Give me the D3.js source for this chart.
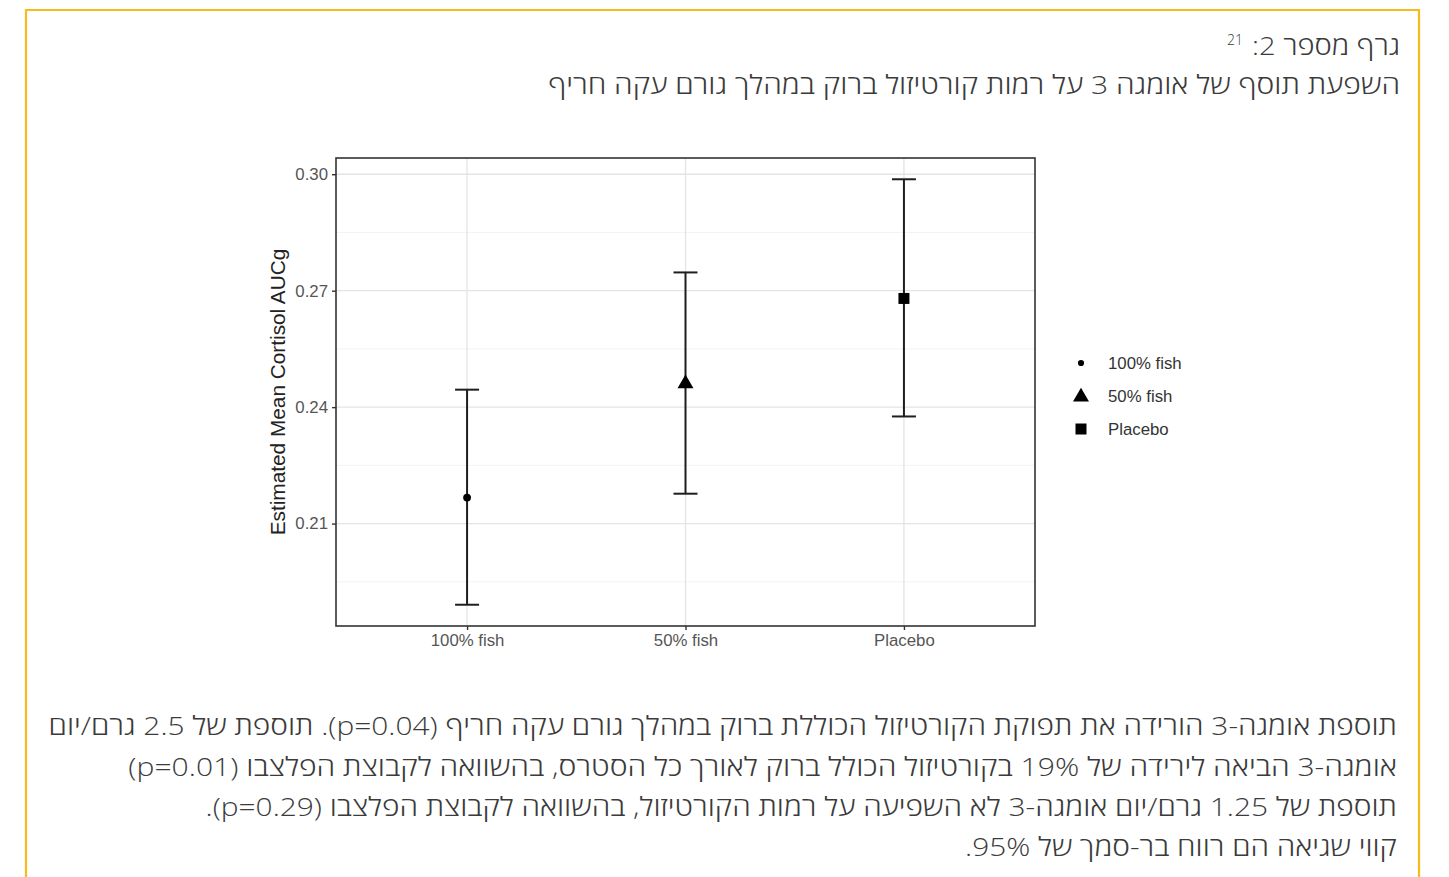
<!DOCTYPE html>
<html lang="he">
<head>
<meta charset="utf-8">
<script src="https://cdn.jsdelivr.net/npm/d3@7/dist/d3.min.js"></script>
<style>
  html, body { margin: 0; padding: 0; background: #ffffff; }
  svg { display: block; }
</style>
</head>
<body>
<svg id="fig" width="1449" height="877"></svg>
<script>
// Groups, estimated means and 95% confidence limits
const categories = ["100% fish", "50% fish", "Placebo"];
const estimates = [0.2167, 0.2463, 0.2680];
const lowerCI = [0.1891, 0.2177, 0.2376];
const upperCI = [0.2445, 0.2747, 0.2987];
const shapes = ["circle", "triangle", "square"];

// Axis ticks
const yTicks = [0.21, 0.24, 0.27, 0.30];
const yMinorTicks = [0.195, 0.225, 0.255, 0.285];
const yTitle = "Estimated Mean Cortisol AUCg";

// Surrounding Hebrew text
const headingLine = "גרף מספר 2:";
const headingRef = "21";
const subtitleLine = "השפעת תוסף של אומגה 3 על רמות קורטיזול ברוק במהלך גורם עקה חריף";
const captionLines = [
  "תוספת אומגה-3 הורידה את תפוקת הקורטיזול הכוללת ברוק במהלך גורם עקה חריף (p=0.04). תוספת של 2.5 גרם/יום",
  "אומגה-3 הביאה לירידה של 19% בקורטיזול הכולל ברוק לאורך כל הסטרס, בהשוואה לקבוצת הפלצבו (p=0.01)",
  "תוספת של 1.25 גרם/יום אומגה-3 לא השפיעה על רמות הקורטיזול, בהשוואה לקבוצת הפלצבו (p=0.29).",
  "קווי שגיאה הם רווח בר-סמך של 95%."
];

const svg = d3.select("#fig");
const hebFont = "'Open Sans', 'Liberation Sans', 'DejaVu Sans', sans-serif";
const plotFont = "'Liberation Sans', Arial, sans-serif";
const textColor = "#3b3b3b";

// Framed box around the figure (open at the bottom)
svg.append("path")
  .attr("d", "M26,877 L26,10 L1419,10 L1419,877")
  .attr("fill", "none")
  .attr("stroke", "#f7bb1c")
  .attr("stroke-width", 2.2);

// Right-to-left text, anchored at its right edge, squeezed to a given width
function rtlText(str, xRight, yBase, size, width) {
  const t = svg.append("text")
    .attr("x", xRight).attr("y", yBase)
    .attr("direction", "rtl")
    .attr("text-anchor", "start")
    .attr("font-family", hebFont)
    .attr("font-size", size)
    .attr("font-weight", 300)
    .attr("fill", textColor)
    .text(str);
  if (width) {
    const w = t.node().getComputedTextLength();
    const s = width / w;
    t.attr("transform", `translate(${xRight},0) scale(${s},1) translate(${-xRight},0)`);
  }
  return t;
}

rtlText(headingLine, 1400, 55, 26, 148);
svg.append("text")
  .attr("x", 1243).attr("y", 45)
  .attr("direction", "rtl")
  .attr("text-anchor", "start")
  .attr("font-family", hebFont)
  .attr("font-size", 14)
  .attr("font-weight", 300)
  .attr("fill", textColor)
  .text(headingRef);
rtlText(subtitleLine, 1400, 94, 26, 852);

const captionWidths = [1349, 1269, 1192, 432];
const captionBase = [735, 776, 816, 856];
captionLines.forEach((ln, i) => rtlText(ln, 1397, captionBase[i], 26, captionWidths[i]));

// ---- Plot panel ----
const panel = { left: 336, right: 1035, top: 158, bottom: 626 };

const x = d3.scalePoint()
  .domain(categories)
  .range([panel.left, panel.right])
  .padding(0.6);

const lo = d3.min(lowerCI), hi = d3.max(upperCI);
const pad = (hi - lo) * 0.05;
const y = d3.scaleLinear()
  .domain([lo - pad, hi + pad])
  .range([panel.bottom, panel.top]);

const g = svg.append("g");

// gridlines
g.append("g").selectAll("line").data(yMinorTicks).join("line")
  .attr("x1", panel.left).attr("x2", panel.right)
  .attr("y1", d => y(d)).attr("y2", d => y(d))
  .attr("stroke", "#f0f0f0").attr("stroke-width", 0.8);
g.append("g").selectAll("line").data(yTicks).join("line")
  .attr("x1", panel.left).attr("x2", panel.right)
  .attr("y1", d => y(d)).attr("y2", d => y(d))
  .attr("stroke", "#e4e4e4").attr("stroke-width", 1.3);
g.append("g").selectAll("line").data(categories).join("line")
  .attr("x1", d => x(d)).attr("x2", d => x(d))
  .attr("y1", panel.top).attr("y2", panel.bottom)
  .attr("stroke", "#e4e4e4").attr("stroke-width", 1.3);

// error bars
const capHalf = 12;
const bars = g.append("g")
  .attr("stroke", "#1e1e1e").attr("stroke-width", 2).attr("fill", "none");
categories.forEach((c, i) => {
  const cx = x(c);
  bars.append("line").attr("x1", cx).attr("x2", cx)
    .attr("y1", y(lowerCI[i])).attr("y2", y(upperCI[i]));
  bars.append("line").attr("x1", cx - capHalf).attr("x2", cx + capHalf)
    .attr("y1", y(upperCI[i])).attr("y2", y(upperCI[i]));
  bars.append("line").attr("x1", cx - capHalf).attr("x2", cx + capHalf)
    .attr("y1", y(lowerCI[i])).attr("y2", y(lowerCI[i]));
});

// point symbols
const symbolType = { circle: d3.symbolCircle, triangle: d3.symbolTriangle, square: d3.symbolSquare };
const symbolSize = { circle: 48, triangle: 110, square: 121 };
const symbolGen = s => d3.symbol().type(symbolType[s]).size(symbolSize[s])();

g.append("g").selectAll("path").data(categories).join("path")
  .attr("transform", (d, i) => `translate(${x(d)},${y(estimates[i]) + (shapes[i] === "triangle" ? 1 : 0)})`)
  .attr("d", (d, i) => symbolGen(shapes[i]))
  .attr("fill", "#000");

// panel border
g.append("rect")
  .attr("x", panel.left).attr("y", panel.top)
  .attr("width", panel.right - panel.left).attr("height", panel.bottom - panel.top)
  .attr("fill", "none").attr("stroke", "#333").attr("stroke-width", 1.6);

// axes
const yAxis = g.append("g")
  .attr("transform", `translate(${panel.left},0)`)
  .call(d3.axisLeft(y).tickValues(yTicks).tickFormat(d3.format(".2f")).tickSize(4).tickPadding(4));
const xAxis = g.append("g")
  .attr("transform", `translate(0,${panel.bottom})`)
  .call(d3.axisBottom(x).tickSize(4).tickPadding(4));
[yAxis, xAxis].forEach(a => {
  a.select(".domain").remove();
  a.selectAll(".tick line").attr("stroke", "#333").attr("stroke-width", 1.4);
  a.selectAll(".tick text")
    .attr("font-family", plotFont)
    .attr("font-size", 16.8)
    .attr("fill", "#555");
});

// y-axis title
svg.append("text")
  .attr("transform", `translate(285,${(panel.top + panel.bottom) / 2}) rotate(-90)`)
  .attr("text-anchor", "middle")
  .attr("font-family", plotFont)
  .attr("font-size", 20.8)
  .attr("fill", "#222")
  .text(yTitle);

// legend
const legend = svg.append("g").attr("transform", "translate(1081,363)");
categories.forEach((c, i) => {
  const row = legend.append("g").attr("transform", `translate(0,${i * 33})`);
  row.append("path")
    .attr("d", d3.symbol().type(symbolType[shapes[i]]).size(shapes[i] === "circle" ? 30 : symbolSize[shapes[i]])())
    .attr("transform", shapes[i] === "triangle" ? "translate(0,1)" : null)
    .attr("fill", "#000");
  row.append("text")
    .attr("x", 27).attr("y", 0)
    .attr("dy", "0.35em")
    .attr("font-family", plotFont)
    .attr("font-size", 16.8)
    .attr("fill", "#333")
    .text(c);
});
</script>
</body>
</html>
